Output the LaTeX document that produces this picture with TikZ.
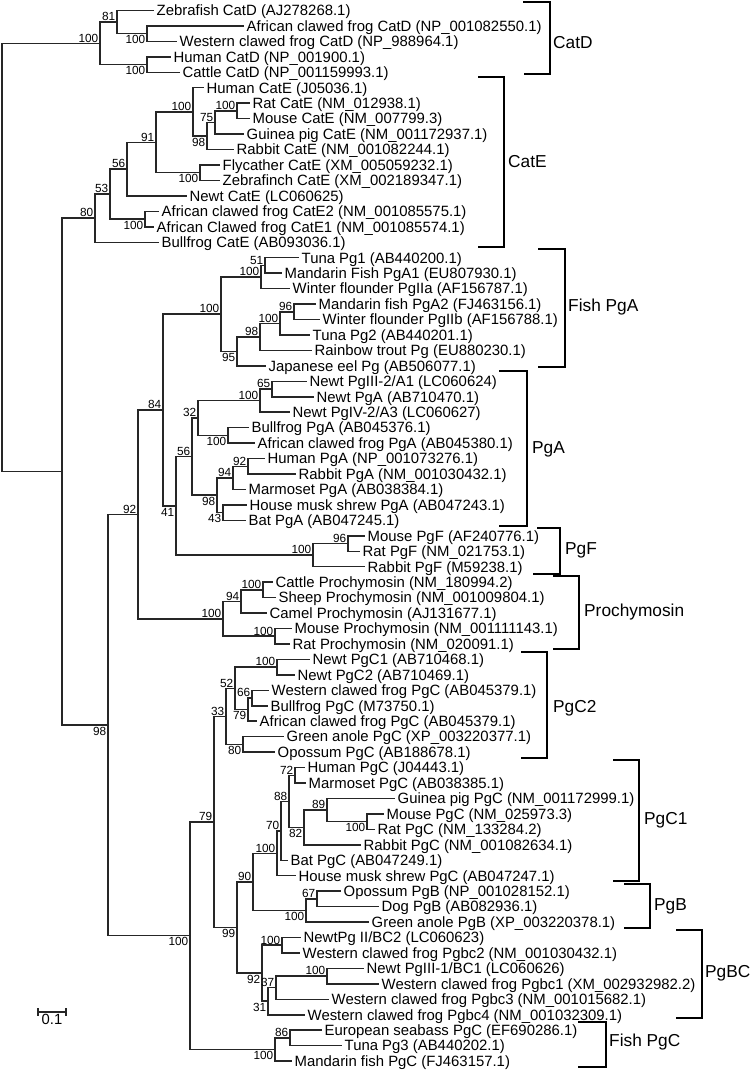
\documentclass[tikz,border=0pt]{standalone}
\usepackage{fontspec}
\setmainfont{Liberation Sans}
\newcommand\Yp[1]{(10.5+(#1-1)*15.45)}
\tikzset{
  br/.style={draw=black!85, line width=1.5pt, line cap=rect},
  leaf/.style={anchor=west, inner xsep=3.5pt, inner ysep=0pt, font=\fontsize{14.9}{16}\selectfont, text height=10.6pt, text depth=0pt},
  bsnum/.style={inner sep=0pt, font=\fontsize{11.8}{12}\selectfont, text height=8.5pt, text depth=0pt},
  bsa/.style={bsnum, anchor=south east, xshift=-1.5pt, yshift=1pt},
  bsb/.style={bsnum, anchor=north east, xshift=-1.5pt, yshift=-1.5pt},
  bracket/.style={draw=black, line width=1.7pt},
  cladelab/.style={anchor=west, inner sep=0pt, font=\fontsize{17.3}{18}\selectfont}
}
\newcommand\mkleaf[4]{\node[leaf] (#1) at (#3,{\Yp{#2}}) {#4};}
\newcommand\mknode[3]{\coordinate (#1) at (#3,{\Yp{#2}});}
\newcommand\mkedge[2]{\draw[br] (#1) |- (#2);}
\newcommand\bsA[2]{\node[bsa] (bs#1) at (#1) {#2};}
\newcommand\bsB[2]{\node[bsb] (bs#1) at (#1) {#2};}
\begin{document}
\begin{tikzpicture}[x=1pt,y=-1pt]
\useasboundingbox (0,0) rectangle (751,1070);
% ---------- leaves
\mkleaf{L1}{1}{153}{Zebrafish CatD (AJ278268.1)}
\mkleaf{L2}{2}{243}{African clawed frog CatD (NP\_001082550.1)}
\mkleaf{L3}{3}{176}{Western clawed frog CatD (NP\_988964.1)}
\mkleaf{L4}{4}{170}{Human CatD (NP\_001900.1)}
\mkleaf{L5}{5}{179}{Cattle CatD (NP\_001159993.1)}
\mkleaf{L6}{6}{203}{Human CatE (J05036.1)}
\mkleaf{L7}{7}{249}{Rat CatE (NM\_012938.1)}
\mkleaf{L8}{8}{249}{Mouse CatE (NM\_007799.3)}
\mkleaf{L9}{9}{243}{Guinea pig CatE (NM\_001172937.1)}
\mkleaf{L10}{10}{233}{Rabbit CatE (NM\_001082244.1)}
\mkleaf{L11}{11}{219}{Flycather CatE (XM\_005059232.1)}
\mkleaf{L12}{12}{219}{Zebrafinch CatE (XM\_002189347.1)}
\mkleaf{L13}{13}{186}{Newt CatE (LC060625)}
\mkleaf{L14}{14}{158}{African clawed frog CatE2 (NM\_001085575.1)}
\mkleaf{L15}{15}{153}{African Clawed frog CatE1 (NM\_001085574.1)}
\mkleaf{L16}{16}{158}{Bullfrog CatE (AB093036.1)}
\mkleaf{L17}{17}{298}{Tuna Pg1 (AB440200.1)}
\mkleaf{L18}{18}{281}{Mandarin Fish PgA1 (EU807930.1)}
\mkleaf{L19}{19}{289}{Winter flounder PgIIa (AF156787.1)}
\mkleaf{L20}{20}{315}{Mandarin fish PgA2 (FJ463156.1)}
\mkleaf{L21}{21}{319}{Winter flounder PgIIb (AF156788.1)}
\mkleaf{L22}{22}{309}{Tuna Pg2 (AB440201.1)}
\mkleaf{L23}{23}{311}{Rainbow trout Pg (EU880230.1)}
\mkleaf{L24}{24}{265}{Japanese eel Pg (AB506077.1)}
\mkleaf{L25}{25}{306}{Newt PgIII-2/A1 (LC060624)}
\mkleaf{L26}{26}{313}{Newt PgA (AB710470.1)}
\mkleaf{L27}{27}{289}{Newt PgIV-2/A3 (LC060627)}
\mkleaf{L28}{28}{248}{Bullfrog PgA (AB045376.1)}
\mkleaf{L29}{29}{254}{African clawed frog PgA (AB045380.1)}
\mkleaf{L30}{30}{264}{Human PgA (NP\_001073276.1)}
\mkleaf{L31}{31}{295}{Rabbit PgA (NM\_001030432.1)}
\mkleaf{L32}{32}{245}{Marmoset PgA (AB038384.1)}
\mkleaf{L33}{33}{246}{House musk shrew PgA (AB047243.1)}
\mkleaf{L34}{34}{245}{Bat PgA (AB047245.1)}
\mkleaf{L35}{35}{364}{Mouse PgF (AF240776.1)}
\mkleaf{L36}{36}{359}{Rat PgF (NM\_021753.1)}
\mkleaf{L37}{37}{364}{Rabbit PgF (M59238.1)}
\mkleaf{L38}{38}{272}{Cattle Prochymosin (NM\_180994.2)}
\mkleaf{L39}{39}{275}{Sheep Prochymosin (NM\_001009804.1)}
\mkleaf{L40}{40}{266}{Camel Prochymosin (AJ131677.1)}
\mkleaf{L41}{41}{291}{Mouse Prochymosin (NM\_001111143.1)}
\mkleaf{L42}{42}{289}{Rat Prochymosin (NM\_020091.1)}
\mkleaf{L43}{43}{309}{Newt PgC1 (AB710468.1)}
\mkleaf{L44}{44}{294}{Newt PgC2 (AB710469.1)}
\mkleaf{L45}{45}{268}{Western clawed frog PgC (AB045379.1)}
\mkleaf{L46}{46}{267}{Bullfrog PgC (M73750.1)}
\mkleaf{L47}{47}{256}{African clawed frog PgC (AB045379.1)}
\mkleaf{L48}{48}{283}{Green anole PgC (XP\_003220377.1)}
\mkleaf{L49}{49}{274}{Opossum PgC (AB188678.1)}
\mkleaf{L50}{50}{304}{Human PgC (J04443.1)}
\mkleaf{L51}{51}{305}{Marmoset PgC (AB038385.1)}
\mkleaf{L52}{52}{394}{Guinea pig PgC (NM\_001172999.1)}
\mkleaf{L53}{53}{383}{Mouse PgC (NM\_025973.3)}
\mkleaf{L54}{54}{374}{Rat PgC (NM\_133284.2)}
\mkleaf{L55}{55}{360}{Rabbit PgC (NM\_001082634.1)}
\mkleaf{L56}{56}{287}{Bat PgC (AB047249.1)}
\mkleaf{L57}{57}{295}{House musk shrew PgC (AB047247.1)}
\mkleaf{L58}{58}{340}{Opossum PgB (NP\_001028152.1)}
\mkleaf{L59}{59}{378}{Dog PgB (AB082936.1)}
\mkleaf{L60}{60}{368}{Green anole PgB (XP\_003220378.1)}
\mkleaf{L61}{61}{300}{NewtPg II/BC2 (LC060623)}
\mkleaf{L62}{62}{299}{Western clawed frog Pgbc2 (NM\_001030432.1)}
\mkleaf{L63}{63}{363}{Newt PgIII-1/BC1 (LC060626)}
\mkleaf{L64}{64}{378}{Western clawed frog Pgbc1 (XM\_002932982.2)}
\mkleaf{L65}{65}{328}{Western clawed frog Pgbc3 (NM\_001015682.1)}
\mkleaf{L66}{66}{304}{Western clawed frog Pgbc4 (NM\_001032309.1)}
\mkleaf{L67}{67}{321}{European seabass PgC (EF690286.1)}
\mkleaf{L68}{68}{341}{Tuna Pg3 (AB440202.1)}
\mkleaf{L69}{69}{291}{Mandarin fish PgC (FJ463157.1)}
% ---------- internal nodes
\mknode{root}{16.9857}{2}
\mknode{dRoot}{3.125}{100}
\mknode{dA}{1.75}{117}
\mknode{dF}{2.5}{147}
\mknode{dH}{4.5}{147}
\mknode{nA}{30.8464}{62}
\mknode{e80}{14.4414}{95}
\mknode{e53}{12.8828}{110}
\mknode{e56}{11.2656}{127}
\mknode{e91}{9.53125}{156}
\mknode{eMam}{7.5625}{193}
\mknode{e98}{9.125}{207}
\mknode{e75}{8.25}{215}
\mknode{eRM}{7.5}{237}
\mknode{eBird}{11.5}{200}
\mknode{eFrog}{14.5}{145}
\mknode{n98}{47.2515}{108}
\mknode{n92}{33.6172}{138}
\mknode{n84}{26.8594}{163}
\mknode{fRoot}{20.65625}{221}
\mknode{f100a}{18.25}{261}
\mknode{f51}{17.5}{265}
\mknode{f95}{23.0625}{237}
\mknode{f98}{22.125}{260}
\mknode{f100b}{21.25}{280}
\mknode{f96}{20.5}{294}
\mknode{n41}{33.0625}{176}
\mknode{a56}{29.875}{192}
\mknode{a32}{27.375}{198}
\mknode{aNewt}{26.25}{260}
\mknode{a65}{25.5}{272}
\mknode{aFrog}{28.5}{228}
\mknode{a98}{32.375}{217}
\mknode{a94}{31.25}{233}
\mknode{a92}{30.5}{248}
\mknode{a43}{33.5}{223}
\mknode{gRoot}{36.25}{313}
\mknode{g96}{35.5}{348}
\mknode{cRoot}{40.375}{223}
\mknode{c94}{39.25}{241}
\mknode{cCS}{38.5}{263}
\mknode{cMR}{41.5}{275}
\mknode{n100}{60.8857}{190}
\mknode{n79}{53.5215}{214}
\mknode{p33}{46.6875}{226}
\mknode{p52}{44.875}{235}
\mknode{pNewt}{43.5}{277}
\mknode{p79}{46.25}{248}
\mknode{p66}{45.5}{252}
\mknode{p80}{48.5}{243}
\mknode{n99}{60.3555}{237}
\mknode{q90}{57.3984}{253}
\mknode{q100}{55.546875}{277}
\mknode{q70}{54.09375}{281}
\mknode{q88}{52.1875}{289}
\mknode{q72}{50.5}{295}
\mknode{q82}{53.875}{304}
\mknode{q89}{52.75}{327}
\mknode{qMR}{53.5}{367}
\mknode{b100}{59.25}{306}
\mknode{b67}{58.5}{317}
\mknode{r92}{63.3125}{262}
\mknode{r100a}{61.5}{282}
\mknode{r31}{65.125}{268}
\mknode{r37}{64.25}{276}
\mknode{r100b}{63.5}{327}
\mknode{s100}{68.25}{275}
\mknode{s86}{67.5}{290}
% ---------- branches
\mkedge{root}{dRoot}\mkedge{root}{nA}
\mkedge{dRoot}{dA}\mkedge{dRoot}{dH}
\mkedge{dA}{L1}\mkedge{dA}{dF}
\mkedge{dF}{L2}\mkedge{dF}{L3}
\mkedge{dH}{L4}\mkedge{dH}{L5}
\mkedge{nA}{e80}\mkedge{nA}{n98}
\mkedge{e80}{e53}\mkedge{e80}{L16}
\mkedge{e53}{e56}\mkedge{e53}{eFrog}
\mkedge{e56}{e91}\mkedge{e56}{L13}
\mkedge{e91}{eMam}\mkedge{e91}{eBird}
\mkedge{eMam}{L6}\mkedge{eMam}{e98}
\mkedge{e98}{e75}\mkedge{e98}{L10}
\mkedge{e75}{eRM}\mkedge{e75}{L9}
\mkedge{eRM}{L7}\mkedge{eRM}{L8}
\mkedge{eBird}{L11}\mkedge{eBird}{L12}
\mkedge{eFrog}{L14}\mkedge{eFrog}{L15}
\mkedge{n98}{n92}\mkedge{n98}{n100}
\mkedge{n92}{n84}\mkedge{n92}{cRoot}
\mkedge{n84}{fRoot}\mkedge{n84}{n41}
\mkedge{fRoot}{f100a}\mkedge{fRoot}{f95}
\mkedge{f100a}{f51}\mkedge{f100a}{L19}
\mkedge{f51}{L17}\mkedge{f51}{L18}
\mkedge{f95}{f98}\mkedge{f95}{L24}
\mkedge{f98}{f100b}\mkedge{f98}{L23}
\mkedge{f100b}{f96}\mkedge{f100b}{L22}
\mkedge{f96}{L20}\mkedge{f96}{L21}
\mkedge{n41}{a56}\mkedge{n41}{gRoot}
\mkedge{a56}{a32}\mkedge{a56}{a98}
\mkedge{a32}{aNewt}\mkedge{a32}{aFrog}
\mkedge{aNewt}{a65}\mkedge{aNewt}{L27}
\mkedge{a65}{L25}\mkedge{a65}{L26}
\mkedge{aFrog}{L28}\mkedge{aFrog}{L29}
\mkedge{a98}{a94}\mkedge{a98}{a43}
\mkedge{a94}{a92}\mkedge{a94}{L32}
\mkedge{a92}{L30}\mkedge{a92}{L31}
\mkedge{a43}{L33}\mkedge{a43}{L34}
\mkedge{gRoot}{g96}\mkedge{gRoot}{L37}
\mkedge{g96}{L35}\mkedge{g96}{L36}
\mkedge{cRoot}{c94}\mkedge{cRoot}{cMR}
\mkedge{c94}{cCS}\mkedge{c94}{L40}
\mkedge{cCS}{L38}\mkedge{cCS}{L39}
\mkedge{cMR}{L41}\mkedge{cMR}{L42}
\mkedge{n100}{n79}\mkedge{n100}{s100}
\mkedge{n79}{p33}\mkedge{n79}{n99}
\mkedge{p33}{p52}\mkedge{p33}{p80}
\mkedge{p52}{pNewt}\mkedge{p52}{p79}
\mkedge{pNewt}{L43}\mkedge{pNewt}{L44}
\mkedge{p79}{p66}\mkedge{p79}{L47}
\mkedge{p66}{L45}\mkedge{p66}{L46}
\mkedge{p80}{L48}\mkedge{p80}{L49}
\mkedge{n99}{q90}\mkedge{n99}{r92}
\mkedge{q90}{q100}\mkedge{q90}{b100}
\mkedge{q100}{q70}\mkedge{q100}{L57}
\mkedge{q70}{q88}\mkedge{q70}{L56}
\mkedge{q88}{q72}\mkedge{q88}{q82}
\mkedge{q72}{L50}\mkedge{q72}{L51}
\mkedge{q82}{q89}\mkedge{q82}{L55}
\mkedge{q89}{L52}\mkedge{q89}{qMR}
\mkedge{qMR}{L53}\mkedge{qMR}{L54}
\mkedge{b100}{b67}\mkedge{b100}{L60}
\mkedge{b67}{L58}\mkedge{b67}{L59}
\mkedge{r92}{r100a}\mkedge{r92}{r31}
\mkedge{r100a}{L61}\mkedge{r100a}{L62}
\mkedge{r31}{r37}\mkedge{r31}{L66}
\mkedge{r37}{r100b}\mkedge{r37}{L65}
\mkedge{r100b}{L63}\mkedge{r100b}{L64}
\mkedge{s100}{s86}\mkedge{s100}{L69}
\mkedge{s86}{L67}\mkedge{s86}{L68}
% ---------- bootstrap values
\bsA{dRoot}{100}\bsA{dA}{81}\bsB{dF}{100}\bsB{dH}{100}
\bsA{e80}{80}\bsA{e53}{53}\bsA{e56}{56}\bsA{e91}{91}\bsA{eMam}{100}
\bsB{e98}{98}\bsA{e75}{75}\bsA{eRM}{100}\bsB{eBird}{100}\bsB{eFrog}{100}
\bsB{n98}{98}\bsA{n92}{92}\bsA{n84}{84}
\bsA{fRoot}{100}\bsA{f100a}{100}\bsA{f51}{51}\bsB{f95}{95}\bsA{f98}{98}\bsA{f100b}{100}\bsA{f96}{96}
\bsB{n41}{41}\bsA{a56}{56}\bsA{a32}{32}\bsA{aNewt}{100}\bsA{a65}{65}\bsB{aFrog}{100}
\bsB{a98}{98}\bsA{a94}{94}\bsA{a92}{92}\bsB{a43}{43}
\bsA{gRoot}{100}\bsA{g96}{96}
\bsA{cRoot}{100}\bsA{c94}{94}\bsA{cCS}{100}\bsA{cMR}{100}
\bsB{n100}{100}\bsA{n79}{79}
\bsA{p33}{33}\bsA{p52}{52}\bsA{pNewt}{100}\bsA{p66}{66}\bsB{p79}{79}\bsB{p80}{80}
\bsB{n99}{99}
\bsA{q90}{90}\bsA{q100}{100}\bsA{q70}{70}\bsA{q88}{88}\bsA{q72}{72}\bsB{q82}{82}\bsA{q89}{89}\bsB{qMR}{100}
\bsB{b100}{100}\bsA{b67}{67}
\bsB{r92}{92}\bsA{r100a}{100}\bsB{r31}{31}\bsA{r37}{37}\bsA{r100b}{100}
\bsB{s100}{100}\bsA{s86}{86}
% ---------- clade brackets
\draw[bracket] (523,2) -- (550,2) -- (550,74) -- (524,74);
\node[cladelab] (kCatD) at (553,43) {CatD};
\draw[bracket] (478,77) -- (504,77) -- (504,247) -- (478,247);
\node[cladelab] (kCatE) at (508,162) {CatE};
\draw[bracket] (538,249) -- (565,249) -- (565,367) -- (538,367);
\node[cladelab] (kFishPgA) at (568,307) {Fish PgA};
\draw[bracket] (499,371) -- (527,371) -- (527,526) -- (499,526);
\node[cladelab] (kPgA) at (532,449) {PgA};
\draw[bracket] (537,528) -- (560,528) -- (560,574) -- (533,574);
\node[cladelab] (kPgF) at (565,550) {PgF};
\draw[bracket] (553,576) -- (579,576) -- (579,649) -- (553,649);
\node[cladelab] (kProch) at (584,612) {Prochymosin};
\draw[bracket] (521,652) -- (547,652) -- (547,758) -- (521,758);
\node[cladelab] (kPgC2) at (553,708) {PgC2};
\draw[bracket] (613,760) -- (639,760) -- (639,881) -- (613,881);
\node[cladelab] (kPgC1) at (644,820) {PgC1};
\draw[bracket] (624,884) -- (650,884) -- (650,928) -- (624,928);
\node[cladelab] (kPgB) at (654,906) {PgB};
\draw[bracket] (676,930) -- (702,930) -- (702,1018) -- (676,1018);
\node[cladelab] (kPgBC) at (705,973) {PgBC};
\draw[bracket] (578,1022) -- (606,1022) -- (606,1067) -- (578,1067);
\node[cladelab] (kFishPgC) at (609,1042) {Fish PgC};
% ---------- scale bar
\coordinate (sbL) at (38,1012);
\coordinate (sbR) at (66,1012);
\draw[br] (sbL) -- (sbR);
\draw[br] ([yshift=3pt]sbL) -- ([yshift=-3.5pt]sbL);
\draw[br] ([yshift=3pt]sbR) -- ([yshift=-3.5pt]sbR);
\node[anchor=north, inner sep=0pt, font=\fontsize{14.8}{16}\selectfont, text height=10.6pt, text depth=0pt] (sbLab) at (52,1014) {0.1};
\end{tikzpicture}
\end{document}
